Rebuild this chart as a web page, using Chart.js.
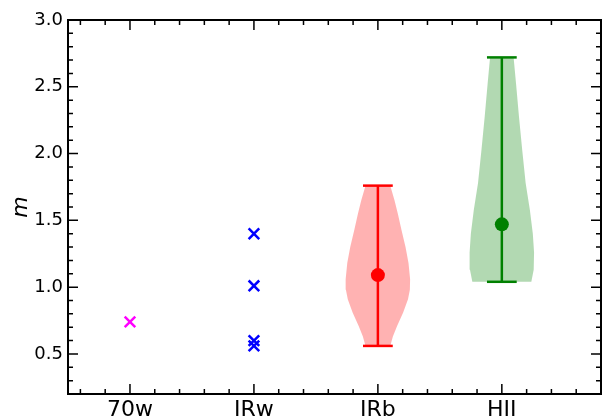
<!DOCTYPE html>
<html>
<head>
<meta charset="utf-8">
<script src="https://cdn.jsdelivr.net/npm/chart.js@4.4.1/dist/chart.umd.min.js"></script>
<style>
  html, body { margin: 0; padding: 0; background: #fff; }
  #box { width: 603px; height: 419px; }
</style>
</head>
<body>
<div id="box"><canvas id="chart"></canvas></div>
<script>
const categories = ["70w", "IRw", "IRb", "HII"];
const yTicks = [0.5, 1.0, 1.5, 2.0, 2.5, 3.0];

// single sources
const values70w = [0.74];
const valuesIRw = [1.40, 1.01, 0.60, 0.56];

// IRb and HII: range and mean
const irbRange = [0.56, 1.76];
const irbMean = 1.09;
const hiiRange = [1.04, 2.72];
const hiiMean = 1.47;

// violin outlines: level -> half width (category units)
const irbLevels = [1.76, 1.65, 1.55, 1.43, 1.30, 1.18, 1.06, 0.98, 0.91, 0.81, 0.71, 0.63, 0.56];
const irbHalfWidth = [0.100, 0.134, 0.161, 0.190, 0.223, 0.247, 0.260, 0.258, 0.243, 0.204, 0.155, 0.121, 0.100];
const hiiLevels = [2.72, 2.53, 2.28, 2.03, 1.78, 1.58, 1.40, 1.26, 1.13, 1.04];
const hiiHalfWidth = [0.095, 0.114, 0.138, 0.164, 0.192, 0.226, 0.250, 0.260, 0.257, 0.238];

const capHalf = 0.12;

function violinShape(pos, levels, widths) {
  const right = levels.map((y, i) => ({ x: pos + widths[i], y }));
  const left = levels.map((y, i) => ({ x: pos - widths[i], y })).reverse();
  return right.concat(left);
}

function segment(x0, y0, x1, y1) {
  return [{ x: x0, y: y0 }, { x: x1, y: y1 }];
}

function lineSet(data, color) {
  return {
    type: "line", data, borderColor: color, borderWidth: 2.5,
    pointRadius: 0, fill: false, order: 2,
  };
}

function violinSet(pos, levels, widths, color) {
  return {
    type: "line", data: violinShape(pos, levels, widths),
    borderWidth: 0, borderColor: "rgba(0,0,0,0)", backgroundColor: color,
    pointRadius: 0, fill: "shape", tension: 0, order: 3,
  };
}

function errorSets(pos, range, color) {
  return [
    lineSet(segment(pos, range[0], pos, range[1]), color),
    lineSet(segment(pos - capHalf, range[0], pos + capHalf, range[0]), color),
    lineSet(segment(pos - capHalf, range[1], pos + capHalf, range[1]), color),
  ];
}

function crossSet(pos, vals, color) {
  return {
    type: "scatter", data: vals.map((y) => ({ x: pos, y })),
    pointStyle: "crossRot", pointRadius: 7.5, borderWidth: 2.5,
    borderColor: color, backgroundColor: color, order: 1,
  };
}

function dotSet(pos, y, color) {
  return {
    type: "scatter", data: [{ x: pos, y }],
    pointStyle: "circle", pointRadius: 7, borderWidth: 0,
    backgroundColor: color, order: 1,
  };
}

// frame with inward ticks on all four sides
const frameTicks = {
  id: "frameTicks",
  afterDraw(chart) {
    const { ctx, chartArea: a, scales } = chart;
    ctx.save();
    ctx.strokeStyle = "#000";
    ctx.lineWidth = 1.5;
    ctx.beginPath();
    for (let k = -2; k <= 18; k++) {
      const v = k * 0.2;
      if (v <= scales.x.min || v >= scales.x.max) continue;
      const len = k % 5 === 0 ? 10 : 5;
      const px = scales.x.getPixelForValue(v);
      ctx.moveTo(px, a.bottom); ctx.lineTo(px, a.bottom - len);
      ctx.moveTo(px, a.top); ctx.lineTo(px, a.top + len);
    }
    for (let k = 3; k <= 29; k++) {
      const len = k % 5 === 0 ? 10 : 5;
      const py = scales.y.getPixelForValue(k / 10);
      ctx.moveTo(a.left, py); ctx.lineTo(a.left + len, py);
      ctx.moveTo(a.right, py); ctx.lineTo(a.right - len, py);
    }
    ctx.stroke();
    ctx.lineWidth = 2;
    ctx.strokeRect(a.left, a.top, a.right - a.left, a.bottom - a.top);
    ctx.restore();
  },
};

const red = "#ff0000";
const green = "#008000";

new Chart(document.getElementById("chart"), {
  type: "scatter",
  data: {
    datasets: [
      violinSet(2, irbLevels, irbHalfWidth, "rgba(255,0,0,0.3)"),
      violinSet(3, hiiLevels, hiiHalfWidth, "rgba(0,128,0,0.3)"),
      ...errorSets(2, irbRange, red),
      ...errorSets(3, hiiRange, green),
      dotSet(2, irbMean, red),
      dotSet(3, hiiMean, green),
      crossSet(0, values70w, "#ff00ff"),
      crossSet(1, valuesIRw, "#0000ff"),
    ],
  },
  options: {
    responsive: true,
    maintainAspectRatio: false,
    animation: false,
    layout: { autoPadding: false, padding: { top: 20, right: 2, left: 0, bottom: 0 } },
    plugins: { legend: { display: false }, tooltip: { enabled: false } },
    scales: {
      x: {
        type: "linear", min: -0.5, max: 3.8,
        grid: { display: false, drawTicks: false }, border: { display: false },
        afterBuildTicks: (s) => { s.ticks = [0, 1, 2, 3].map((v) => ({ value: v })); },
        afterFit: (s) => { s.height = 25; s.paddingLeft = 0; s.paddingRight = 0; },
        ticks: {
          padding: 3, color: "#000",
          font: { family: "DejaVu Sans", size: 22 },
          callback: (v) => categories[v],
        },
      },
      y: {
        type: "linear", min: 0.2, max: 3.0,
        grid: { display: false, drawTicks: false }, border: { display: false },
        afterBuildTicks: (s) => { s.ticks = yTicks.map((v) => ({ value: v })); },
        afterFit: (s) => { s.width = 68; s.paddingTop = 0; s.paddingBottom = 0; },
        ticks: {
          padding: 5, color: "#000",
          font: { family: "DejaVu Sans", size: 18 },
          callback: (v) => v.toFixed(1),
        },
        title: {
          display: true, text: "m", color: "#000",
          font: { family: "DejaVu Sans", size: 22, style: "italic" },
          padding: { top: 8, bottom: 0 },
        },
      },
    },
  },
  plugins: [frameTicks],
});
</script>
</body>
</html>
